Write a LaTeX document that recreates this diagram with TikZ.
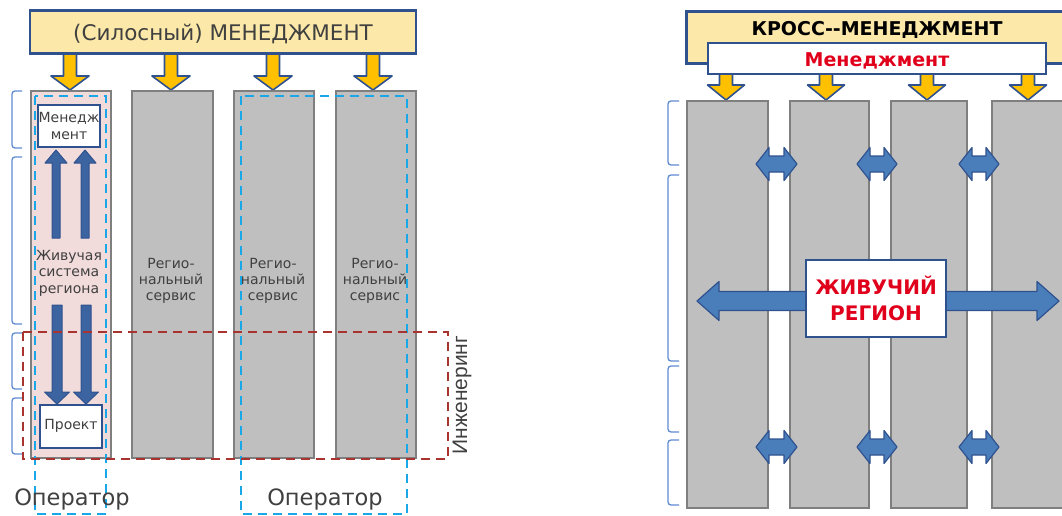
\documentclass[tikz,border=0pt]{standalone}
\usepackage{fontspec}
\setmainfont{DejaVu Sans}
\newfontfamily\arialf{Liberation Sans}
\definecolor{colgray}{HTML}{BFBFBF}
\definecolor{colborder}{HTML}{7F7F7F}
\definecolor{ylfill}{HTML}{FCE9A9}
\definecolor{navy}{HTML}{2F528F}
\definecolor{gold}{HTML}{FFC000}
\definecolor{arrblue}{HTML}{4A7EBB}
\definecolor{darkblue}{HTML}{3B64A0}
\definecolor{pinkf}{HTML}{F2DCDB}
\definecolor{cyanl}{HTML}{1AA7E8}
\definecolor{redd}{HTML}{A8332F}
\definecolor{brk}{HTML}{5F8BD1}
\definecolor{redt}{HTML}{E0001B}
\definecolor{txt}{HTML}{404040}
\tikzset{
 column/.style={draw=colborder, line width=2.2pt, fill=colgray, inner sep=0pt, anchor=north west},
 ybox/.style={draw=navy, line width=2.6pt, fill=ylfill, inner sep=0pt},
 wbox/.style={draw=navy, line width=2pt, fill=white, inner sep=0pt, align=center},
 garrow/.style={draw=navy, line width=1.6pt, fill=gold, line join=round},
 barrow/.style={draw=navy, line width=1.2pt, fill=arrblue, line join=round},
 dbarrow/.style={draw=navy, line width=1pt, fill=darkblue, line join=round},
 cdash/.style={draw=cyanl, line width=2pt, dash pattern=on 9pt off 6pt},
 rdash/.style={draw=redd, line width=1.8pt, dash pattern=on 9pt off 6pt},
 bracketline/.style={draw=brk, line width=1.3pt, rounded corners=3pt},
 coltext/.style={align=center, text=txt, font=\fontsize{14}{16}\selectfont},
}
% #1 style, #2 x, #3 y tail, #4 y head base, #5 y tip, #6 half shaft, #7 half head
\newcommand\vblock[7]{\draw[#1] ({#2-#6},#3) -- ({#2+#6},#3) -- ({#2+#6},#4) -- ({#2+#7},#4) -- (#2,#5) -- ({#2-#7},#4) -- ({#2-#6},#4) -- cycle;}
% #1 style, #2 y, #3 xl, #4 xr, #5 head length, #6 half shaft, #7 half head
\newcommand\hdouble[7]{\draw[#1] (#3,#2) -- ({#3+#5},{#2-#7}) -- ({#3+#5},{#2-#6}) -- ({#4-#5},{#2-#6}) -- ({#4-#5},{#2-#7}) -- (#4,#2) -- ({#4-#5},{#2+#7}) -- ({#4-#5},{#2+#6}) -- ({#3+#5},{#2+#6}) -- ({#3+#5},{#2+#7}) -- cycle;}
\newcommand\sqbracket[4]{\draw[bracketline] (#2,#3) -- (#1,#3) -- (#1,#4) -- (#2,#4);}
\begin{document}
\begin{tikzpicture}[x=1pt,y=-1pt]
\useasboundingbox (0,0) rectangle (1062,515);
\clip (0,0) rectangle (1062,515);
\fill[white] (0,0) rectangle (1062,515);

% ================= LEFT PANEL =================
\node[ybox, minimum width=386pt, minimum height=43pt] (lt) at (223,32) {};
\node[anchor=base, text=txt, font=\fontsize{21.5}{24}\selectfont] (ltt) at (223,40) {(Силосный) МЕНЕДЖМЕНТ};
\foreach \xx in {70,171,273,373} {\vblock{garrow}{\xx}{54}{76}{90}{6.5}{19}}

\node[column, fill=pinkf, minimum width=80pt, minimum height=367pt] (lc1) at (30,90) {};
\node[column, minimum width=81pt, minimum height=367pt] (lc2) at (131,90) {};
\node[column, minimum width=80pt, minimum height=367pt] (lc3) at (233,90) {};
\node[column, minimum width=80pt, minimum height=367pt] (lc4) at (335,90) {};

\sqbracket{12}{22}{91}{148}
\sqbracket{12}{22}{157}{324}
\sqbracket{12}{22}{333}{389}
\sqbracket{12}{22}{398}{454}

\node[wbox, minimum width=62pt, minimum height=42pt, text=txt, font=\fontsize{14}{17}\selectfont] (lm) at (69,126) {Менедж\\мент};
\vblock{dbarrow}{56}{238}{163}{150}{4}{11}
\vblock{dbarrow}{85}{238}{163}{150}{4}{11}
\node[coltext, font=\fontsize{14}{16.5}\selectfont] (lz) at (69,273) {Живучая\\система\\региона};
\vblock{dbarrow}{57}{305}{392}{404}{5}{12.5}
\vblock{dbarrow}{86}{305}{392}{404}{5}{12.5}
\node[wbox, minimum width=62pt, minimum height=43pt, text=txt, font=\fontsize{14}{16}\selectfont] (lp) at (71,426) {Проект};

\node[coltext] (r2) at (171,281) {Регио-\\нальный\\сервис};
\node[coltext] (r3) at (273,281) {Регио-\\нальный\\сервис};
\node[coltext] (r4) at (375,281) {Регио-\\нальный\\сервис};

\draw[cdash] (35,96) rectangle (106,514);
\draw[cdash] (241,96) rectangle (407,514);
\draw[rdash] (23,332) rectangle (448,459);

\node[rotate=90, text=txt, font=\arialf\fontsize{21}{24}\selectfont] (ing) at (462,395) {Инженеринг};
\node[anchor=base, text=txt, font=\fontsize{22.5}{26}\selectfont] (op1) at (72,505) {Оператор};
\node[anchor=base, text=txt, font=\fontsize{22.5}{26}\selectfont] (op2) at (325,505) {Оператор};

% ================= RIGHT PANEL =================
\node[ybox, anchor=north west, minimum width=400pt, minimum height=52pt] (rt) at (685,10) {};
\node[anchor=base, text=black, font=\bfseries\fontsize{19}{22}\selectfont] (rtt) at (877,35.5) {КРОСС-{}-МЕНЕДЖМЕНТ};
\node[wbox, minimum width=338pt, minimum height=31pt] (rm) at (877,58.5) {};
\node[anchor=base, text=redt, font=\bfseries\fontsize{19}{22}\selectfont] (rmt) at (877,66) {Менеджмент};
\foreach \xx in {726,826,927,1028} {\vblock{garrow}{\xx}{74}{85}{100}{6.5}{18.5}}

\node[column, minimum width=81pt, minimum height=407pt] (rc1) at (686,100) {};
\node[column, minimum width=79pt, minimum height=407pt] (rc2) at (789,100) {};
\node[column, minimum width=76pt, minimum height=407pt] (rc3) at (890,100) {};
\node[column, minimum width=90pt, minimum height=407pt] (rc4) at (991,100) {};

\sqbracket{668}{679}{101}{165}
\sqbracket{668}{679}{175}{361}
\sqbracket{668}{679}{366}{432}
\sqbracket{668}{679}{440}{505}

\foreach \yy in {164,447} {
  \hdouble{barrow}{\yy}{756}{797}{13}{8}{16.5}
  \hdouble{barrow}{\yy}{857}{897}{13}{8}{16.5}
  \hdouble{barrow}{\yy}{959}{999}{13}{8}{16.5}
}
\hdouble{barrow}{301}{697}{1059}{22}{9.5}{19.5}
\node[wbox, minimum width=140pt, minimum height=77pt, text=redt, font=\bfseries\fontsize{20}{26}\selectfont] (jr) at (876,298) {ЖИВУЧИЙ\\РЕГИОН};
\end{tikzpicture}
\end{document}
